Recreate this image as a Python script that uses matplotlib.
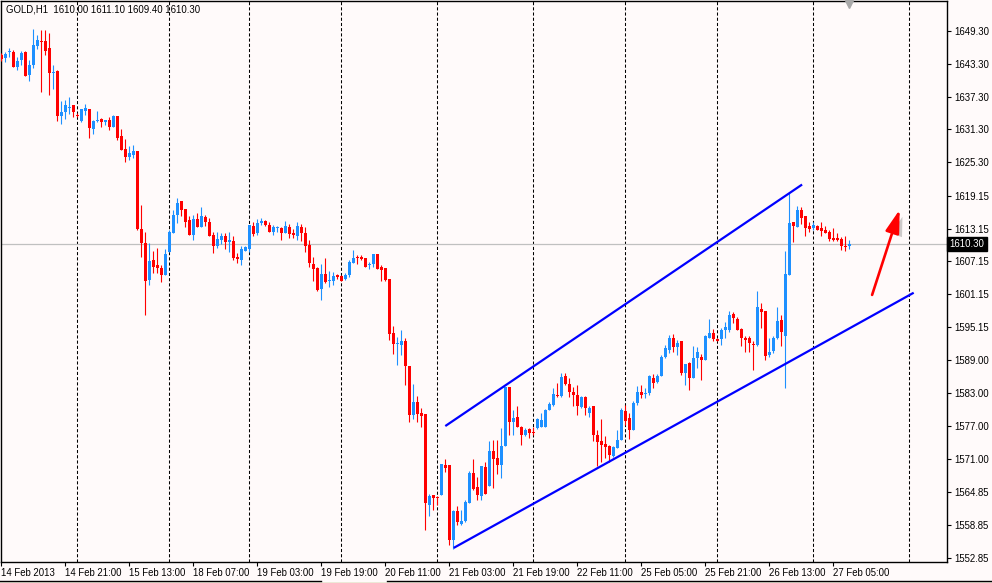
import matplotlib
matplotlib.use("Agg")
import matplotlib.pyplot as plt
import matplotlib.transforms as mtransforms
import matplotlib.patheffects as pe
from matplotlib.patches import FancyArrowPatch
from matplotlib.lines import Line2D
import numpy as np

# ---------------- data (GOLD, H1) ----------------
opens = [1644.9,1644.3,1645.4,1645.4,1642.8,1644.0,1645.5,1641.2,1643.1,1646.5,
         1647.4,1647.5,1646.2,1641.6,1641.9,1633.8,1634.4,1635.2,1635.8,1633.9,
         1632.9,1634.7,1635.0,1631.4,1632.9,1633.2,1632.6,1633.0,1631.8,1633.8,
         1630.1,1627.7,1626.3,1626.6,1627.4,1613.1,1610.5,1603.8,1607.4,1606.5,
         1605.9,1604.7,1608.9,1612.4,1615.7,1618.2,1616.7,1614.7,1612.0,1614.9,
         1613.5,1615.2,1614.3,1612.0,1609.9,1611.1,1611.8,1610.6,1610.8,1608.0,
         1607.4,1609.1,1609.4,1613.6,1612.3,1614.1,1614.6,1613.8,1612.6,1613.3,
         1613.3,1612.3,1613.5,1612.3,1611.7,1613.5,1612.3,1610.2,1606.7,1606.0,
         1602.1,1604.9,1603.5,1603.5,1604.6,1604.5,1603.9,1604.6,1606.9,1608.0,
         1608.0,1607.7,1606.4,1606.7,1608.5,1606.2,1605.9,1603.9,1594.0,1592.0,
         1591.9,1592.5,1588.0,1579.1,1581.4,1579.4,1579.2,1562.6,1564.3,1564.0,
         1564.4,1569.9,1569.8,1556.2,1561.5,1559.1,1559.7,1563.0,1568.4,1565.8,
         1564.2,1569.5,1566.1,1572.5,1571.2,1569.9,1573.4,1584.1,1577.8,1578.7,
         1576.8,1575.4,1576.5,1576.0,1576.6,1576.9,1576.9,1580.0,1580.9,1582.7,
         1582.5,1586.1,1584.7,1583.3,1582.7,1580.4,1582.4,1579.4,1580.6,1575.4,
         1574.2,1573.7,1573.3,1571.6,1572.9,1574.4,1579.8,1578.4,1576.3,1581.2,
         1583.2,1582.8,1583.0,1585.8,1585.0,1586.2,1589.6,1591.0,1593.1,1591.4,
         1592.5,1586.7,1588.6,1585.8,1589.4,1589.7,1589.1,1593.1,1594.0,1592.9,
         1592.9,1594.6,1594.5,1597.5,1596.6,1594.7,1593.1,1593.1,1592.1,1591.9,
         1598.4,1598.1,1590.0,1590.7,1593.1,1596.4,1593.4,1604.6,1614.3,1613.5,
         1616.6,1615.5,1613.6,1613.3,1613.6,1613.3,1612.8,1612.6,1611.4,1611.4,
         1611.2,1610.0,1610.0]
highs = [1645.2,1645.4,1646.2,1645.9,1644.6,1645.7,1645.7,1644.0,1649.7,1648.5,
         1649.5,1649.5,1648.9,1643.1,1642.2,1636.4,1636.7,1637.2,1635.8,1634.3,
         1635.1,1636.0,1635.0,1633.0,1634.7,1633.3,1633.0,1633.5,1634.0,1633.8,
         1631.4,1629.6,1628.3,1628.5,1627.4,1617.4,1612.5,1610.5,1609.1,1609.6,
         1606.5,1609.4,1612.9,1616.6,1618.7,1618.2,1616.7,1615.4,1615.7,1616.0,
         1617.1,1615.7,1615.0,1612.6,1612.6,1612.3,1612.3,1612.6,1611.7,1608.6,
         1610.0,1610.0,1613.8,1614.4,1614.9,1615.0,1614.7,1614.3,1613.8,1613.7,
         1613.5,1614.6,1613.9,1613.0,1614.3,1614.0,1613.5,1611.1,1608.0,1606.2,
         1606.7,1607.7,1605.4,1605.2,1604.8,1604.7,1605.1,1607.4,1609.3,1608.3,
         1608.3,1607.7,1607.1,1608.5,1608.5,1606.4,1606.0,1603.9,1595.3,1593.3,
         1594.6,1593.1,1588.0,1584.7,1582.5,1580.3,1579.2,1564.6,1564.4,1564.2,
         1570.1,1571.0,1569.9,1561.7,1562.4,1561.7,1563.5,1568.7,1570.9,1567.6,
         1569.7,1570.5,1574.3,1574.4,1574.5,1576.7,1584.2,1584.2,1580.0,1580.6,
         1577.0,1576.6,1576.7,1576.9,1578.4,1579.4,1580.2,1581.4,1583.9,1584.9,
         1586.8,1586.7,1585.8,1584.2,1584.5,1582.5,1582.5,1580.6,1580.7,1576.3,
         1578.3,1575.1,1573.6,1573.3,1576.3,1580.3,1580.9,1579.4,1581.6,1584.4,
         1584.5,1583.9,1586.4,1586.5,1586.5,1590.0,1591.8,1593.7,1593.8,1592.7,
         1592.5,1588.4,1588.8,1591.7,1591.4,1590.2,1593.6,1596.6,1594.8,1593.2,
         1594.9,1596.0,1598.0,1597.8,1596.9,1594.9,1593.4,1593.4,1592.5,1601.7,
         1599.5,1598.1,1593.2,1593.4,1598.7,1597.4,1609.1,1619.7,1614.4,1617.3,
         1617.0,1615.5,1614.4,1614.3,1613.8,1614.4,1613.6,1612.8,1613.2,1612.3,
         1611.6,1611.7,1611.1]
lows = [1643.9,1643.7,1644.6,1642.8,1642.1,1643.1,1641.0,1640.2,1642.6,1646.0,
        1638.2,1644.9,1637.5,1638.7,1632.9,1632.3,1633.2,1634.1,1633.5,1633.5,
        1632.7,1634.0,1629.8,1630.5,1632.6,1631.8,1632.1,1631.2,1631.8,1629.3,
        1627.6,1625.4,1625.7,1626.0,1612.8,1607.9,1597.4,1602.8,1605.1,1605.0,
        1603.3,1604.7,1608.9,1612.4,1614.1,1615.5,1613.5,1611.9,1611.1,1613.5,
        1613.5,1613.6,1611.7,1608.6,1609.6,1610.4,1609.4,1608.9,1607.4,1606.8,
        1606.5,1609.1,1608.9,1611.7,1612.0,1613.8,1613.6,1612.6,1612.0,1612.6,
        1611.0,1612.3,1611.4,1611.4,1611.1,1610.9,1608.9,1606.2,1603.6,1601.7,
        1600.1,1603.2,1602.5,1602.9,1603.9,1603.6,1603.8,1604.2,1606.9,1606.7,
        1607.4,1606.2,1605.7,1606.2,1605.8,1603.6,1603.6,1592.8,1590.2,1588.1,
        1590.0,1584.5,1577.7,1578.3,1577.8,1576.9,1558.0,1560.6,1561.7,1562.6,
        1564.4,1568.6,1555.3,1554.5,1558.8,1558.9,1559.5,1563.0,1565.3,1563.5,
        1563.4,1564.6,1566.1,1565.6,1568.3,1567.5,1573.4,1575.4,1575.4,1576.8,
        1573.6,1575.1,1574.8,1575.4,1576.5,1576.8,1576.8,1579.9,1580.7,1582.3,
        1582.4,1584.5,1582.4,1580.6,1579.1,1580.3,1579.1,1578.6,1574.2,1569.6,
        1570.5,1571.1,1570.5,1571.4,1572.9,1574.4,1577.2,1574.7,1576.3,1580.9,
        1582.1,1582.1,1582.7,1583.9,1584.9,1586.1,1589.4,1590.3,1590.6,1590.0,
        1586.4,1584.6,1583.6,1585.8,1587.6,1585.5,1589.1,1593.1,1592.5,1592.5,
        1591.9,1593.2,1594.3,1595.8,1594.5,1591.7,1590.5,1590.6,1587.3,1591.7,
        1594.9,1589.1,1589.7,1590.3,1592.9,1591.6,1583.9,1604.6,1610.6,1613.5,
        1613.9,1611.7,1612.6,1612.9,1612.8,1611.7,1612.3,1610.9,1610.9,1610.8,
        1609.2,1609.0,1609.4]
closes = [1644.1,1645.1,1645.7,1642.8,1643.8,1645.2,1641.1,1643.1,1646.8,1647.7,
          1647.2,1645.7,1641.7,1641.7,1633.8,1634.4,1635.8,1635.4,1634.5,1633.8,
          1635.0,1635.2,1631.6,1632.9,1633.0,1632.7,1633.0,1631.8,1633.8,1629.8,
          1627.6,1626.3,1626.9,1627.4,1613.1,1610.5,1603.6,1607.2,1606.2,1606.0,
          1604.7,1608.5,1612.6,1615.7,1617.9,1616.6,1614.4,1611.9,1614.9,1613.5,
          1615.4,1614.4,1611.7,1609.9,1611.2,1611.7,1610.6,1611.1,1607.7,1607.6,
          1609.4,1609.7,1613.8,1612.2,1614.1,1614.6,1613.8,1612.6,1613.5,1613.5,
          1612.3,1613.7,1612.2,1611.9,1613.7,1612.3,1609.9,1606.9,1605.8,1601.9,
          1604.9,1603.3,1603.6,1604.4,1604.2,1603.6,1604.7,1607.0,1607.7,1607.7,
          1607.5,1606.2,1606.7,1608.5,1605.8,1605.6,1603.8,1593.9,1592.1,1592.2,
          1592.5,1587.9,1579.1,1581.4,1579.2,1578.9,1562.9,1564.2,1563.9,1563.8,
          1570.1,1569.4,1556.2,1561.5,1559.4,1559.7,1563.1,1568.4,1565.5,1564.4,
          1569.6,1564.6,1572.4,1571.0,1569.8,1573.4,1584.1,1577.8,1578.4,1576.9,
          1575.4,1576.3,1575.7,1575.7,1578.3,1578.1,1580.0,1581.0,1582.9,1582.5,
          1585.9,1584.7,1583.3,1582.7,1580.6,1582.4,1580.3,1580.3,1575.3,1574.0,
          1573.6,1573.1,1571.7,1573.1,1574.4,1580.0,1578.0,1576.3,1581.3,1583.3,
          1582.7,1583.1,1586.1,1584.9,1586.2,1589.7,1591.3,1593.2,1591.4,1592.2,
          1586.7,1588.4,1585.8,1589.5,1590.5,1589.1,1593.4,1594.0,1592.9,1592.6,
          1594.6,1595.1,1597.4,1596.7,1594.6,1593.1,1592.7,1592.2,1591.9,1598.7,
          1597.8,1589.9,1590.5,1593.1,1596.3,1594.2,1604.8,1614.1,1613.7,1616.6,
          1615.0,1613.2,1613.1,1613.8,1612.9,1612.7,1612.4,1611.3,1611.1,1611.1,
          1610.0,1609.7,1610.3]

time_labels = ["14 Feb 2013", "14 Feb 21:00", "15 Feb 13:00", "18 Feb 07:00",
               "19 Feb 03:00", "19 Feb 19:00", "20 Feb 11:00", "21 Feb 03:00",
               "21 Feb 19:00", "22 Feb 11:00", "25 Feb 05:00", "25 Feb 21:00",
               "26 Feb 13:00", "27 Feb 05:00"]
time_label_bars = [0, 16, 32, 48, 64, 80, 96, 112, 128, 144, 160, 176, 192, 208]
day_start_bars = [19, 42, 62, 85, 109, 133, 156, 179, 203, 227]

price_ticks = [1649.30, 1643.30, 1637.30, 1631.30, 1625.30, 1619.15, 1613.15,
               1607.15, 1601.15, 1595.15, 1589.00, 1583.00, 1577.00, 1571.00,
               1564.85, 1558.85, 1552.85]
price_tick_labels = ["%.2f" % v for v in price_ticks]

symbol = "GOLD,H1"
last_ohlc = [1610.00, 1611.10, 1609.40, 1610.30]
current_price = 1610.30

upper_channel = [(111.0, 1577.0), (200.2, 1621.2)]
lower_channel = [(113.1, 1554.7), (228.1, 1601.4)]
arrow_from = (217.7, 1601.0)
arrow_to = (224.6, 1616.6)

# ---------------- figure ----------------
W, H = 992, 583
BG = "#FFFAFA"
BULL = "#1E90FF"
BEAR = "#FF0000"
FONT = "Liberation Sans"
FS = 6.9

fig = plt.figure(figsize=(W / 100, H / 100), dpi=100, facecolor=BG)
ax = fig.add_axes([0.5 / W, (H - 562) / H, 946 / W, 561 / H])
ax.set_facecolor(BG)

n = len(opens)
x = np.arange(n)
o = np.array(opens); h = np.array(highs); l = np.array(lows); c = np.array(closes)
up = c >= o
cols = np.where(up, BULL, BEAR)

# grid: day separators and current price line
for d in day_start_bars:
    ax.axvline(d, color="black", lw=0.75, ls=(0, (3, 2)), zorder=1)
ax.axhline(current_price, color="#C0C0C0", lw=0.9, zorder=1)

# candles
ax.vlines(x, l, h, colors=cols, lw=0.8, zorder=3)
body_bottom = np.minimum(o, c)
body_h = np.maximum(np.abs(c - o), 0.2)
ax.bar(x, body_h, bottom=body_bottom, width=0.78, color=cols, lw=0, zorder=4)

# channel lines
for line in (upper_channel, lower_channel):
    xs = [p[0] for p in line]; ys = [p[1] for p in line]
    ax.plot(xs, ys, color="#0000FF", lw=1.6, zorder=5, solid_capstyle="butt")

# red arrow with shadow
arr = FancyArrowPatch(arrow_from, arrow_to,
                      arrowstyle="-|>,head_length=1.4,head_width=0.42",
                      mutation_scale=10, color="#FF0000", lw=1.9, zorder=6,
                      shrinkA=0, shrinkB=0)
arr.set_path_effects([pe.SimplePatchShadow(offset=(3.0, -2.0), shadow_rgbFace="#808080", alpha=0.4),
                      pe.Normal()])
ax.add_patch(arr)

# chart-shift marker at top
blend = mtransforms.blended_transform_factory(ax.transData, ax.transAxes)
ax.plot([n - 1], [0.994], marker="v", color="#A9A9A9", markersize=5.5,
        transform=blend, clip_on=False, zorder=7)

# axes limits
ax.set_xlim(-0.2, 236.3)
ax.set_ylim(1552.12, 1654.79)

for s in ax.spines.values():
    s.set_color("black"); s.set_linewidth(1.0)

# y axis on right
ax.yaxis.tick_right()
ax.set_yticks(price_ticks)
ax.set_yticklabels(price_tick_labels, fontsize=FS, family=FONT)
ax.tick_params(axis="y", direction="out", length=3, width=0.8, pad=2.5, colors="black")

# x axis
ax.set_xticks(time_label_bars)
ax.set_xticklabels(time_labels, fontsize=FS, family=FONT, ha="left")
ax.tick_params(axis="x", direction="out", length=3, width=0.8, pad=1.5, colors="black")
for t in ax.get_xticklabels():
    t.set_horizontalalignment("left")

# current price box
yblend = mtransforms.blended_transform_factory(ax.transAxes, ax.transData)
ax.text(1.0035, current_price, "%.2f" % current_price, transform=yblend,
        ha="left", va="center", color="white", fontsize=FS, family=FONT,
        bbox=dict(boxstyle="square,pad=0.25", facecolor="black", edgecolor="black"),
        zorder=10, clip_on=False)

# header
header = symbol + "  " + " ".join("%.2f" % v for v in last_ohlc)
ax.text(5 / 946, 1 - 4 / 561, header, transform=ax.transAxes, ha="left", va="top",
        fontsize=FS, family=FONT, color="black", zorder=10)

# window bottom frame
fig.add_artist(plt.Rectangle((0, 0), 1, 1.5 / H, transform=fig.transFigure,
                             facecolor="#ECE9D8", edgecolor="none"))
fig.add_artist(Line2D([0, 321 / W], [2.2 / H, 2.2 / H], transform=fig.transFigure,
                      color="black", lw=1.0))
fig.add_artist(Line2D([387 / W, 1], [2.2 / H, 2.2 / H], transform=fig.transFigure,
                      color="black", lw=1.0))

fig.savefig("out.png", dpi=100, facecolor=BG)
